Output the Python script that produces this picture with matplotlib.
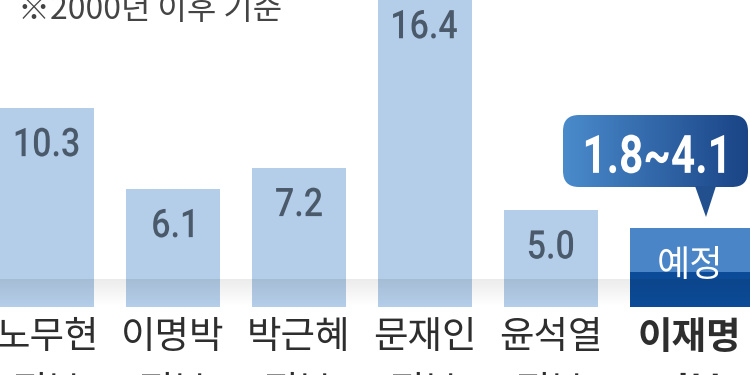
import numpy as np
import matplotlib.pyplot as plt
from matplotlib.patches import FancyBboxPatch, Polygon, PathPatch
from matplotlib.colors import LinearSegmentedColormap
from matplotlib.textpath import TextPath
from matplotlib.font_manager import FontProperties
from matplotlib.transforms import Affine2D

plt.rcParams['font.family'] = ['Noto Sans CJK KR', 'DejaVu Sans']

# data
govts = ['노무현', '이명박', '박근혜', '문재인', '윤석열', '이재명']
suffix = '정부'
values = [10.3, 6.1, 7.2, 16.4, 5.0]
forecast_low, forecast_high = 1.8, 4.1
forecast_text = '1.8~4.1'
note = '※2000년 이후 기준'


def ctext(ax, x, y, s, px, stretch, color, weight='normal', zorder=5):
    # condensed text: glyph outlines squeezed horizontally, centred on (x, y)
    fp = FontProperties(family='Roboto', weight=weight)
    tp = TextPath((0, 0), s, size=px, prop=fp)
    ext = tp.get_extents()
    cx, cy = (ext.x0 + ext.x1) / 2, (ext.y0 + ext.y1) / 2
    X, Y = ax.transData.transform((x, y))
    tr = Affine2D().translate(-cx, -cy).scale(stretch, 1).translate(X, Y)
    ax.add_patch(PathPatch(tp, transform=tr, facecolor=color,
                           edgecolor='none', zorder=zorder))


fig = plt.figure(figsize=(7.5, 3.75), dpi=100)
ax = fig.add_axes([0, 0, 1, 1])

x = np.arange(len(values))
ax.bar(x, values, width=0.75, color='#b4cde8', zorder=1)

# forecast bar (last government)
i6 = len(values)
left6 = i6 - 0.373
ax.bar(left6, forecast_low, width=1.0, align='edge', color='#0c4b97', zorder=1)
ax.bar(left6, forecast_high - forecast_low, bottom=forecast_low, width=1.0,
       align='edge', color='#4a86c7', zorder=1)

# floor shading
grad = np.zeros((64, 2, 4))
grad[..., 3] = np.linspace(0, 0.08, 64)[:, None]
ax.imshow(grad, extent=(-0.373, 5.58, 0, 1.4), origin='lower', aspect='auto',
          zorder=3, interpolation='bilinear')

ax.set_xlim(-0.373, 5.58)
ax.set_ylim(-3.52, 15.9)
ax.axis('off')

for xi, v in zip(x, values):
    ctext(ax, xi, v - 1.76, f'{v:.1f}', 39.5, 0.86, '#4b5a6b', weight='medium')

ax.text(i6 + 0.1, 2.1, '예정', ha='center', va='center', fontsize=26,
        color='white', zorder=4)

# category labels
for i, g in enumerate(govts):
    xi = i if i < len(values) else i6 + 0.1
    w = 'bold' if i == len(values) else 'normal'
    ax.text(xi, -1.6, g, ha='center', va='center', fontsize=27,
            color='#2e2e2e', weight=w)
    ax.text(xi, -4.45, suffix, ha='center', va='center', fontsize=27,
            color='#2e2e2e', weight=w)

# overlay in pixel units for callout and note
ov = fig.add_axes([0, 0, 1, 1])
ov.set_xlim(0, 750)
ov.set_ylim(375, 0)
ov.axis('off')

box = FancyBboxPatch((563, 115), 185, 72, boxstyle='round,pad=0,rounding_size=16',
                     facecolor='none', edgecolor='none')
ov.add_patch(box)
cmap = LinearSegmentedColormap.from_list('cb', ['#4a8bcc', '#1a4486'])
img = ov.imshow(np.linspace(0, 1, 256).reshape(1, -1), cmap=cmap,
                extent=(563, 748, 187, 115), aspect='auto')
img.set_clip_path(box)
ov.add_patch(Polygon([(695, 186), (716, 186), (706, 217)], closed=True,
                     facecolor='#22508f', edgecolor='none'))
ov.set_xlim(0, 750)
ov.set_ylim(375, 0)
ctext(ov, 655, 154, forecast_text, 53, 0.8, 'white', weight='bold')

ov.text(18, 19, note, ha='left', va='baseline', fontsize=23, color='#444444')

fig.savefig('out.png', dpi=100, facecolor='white')
